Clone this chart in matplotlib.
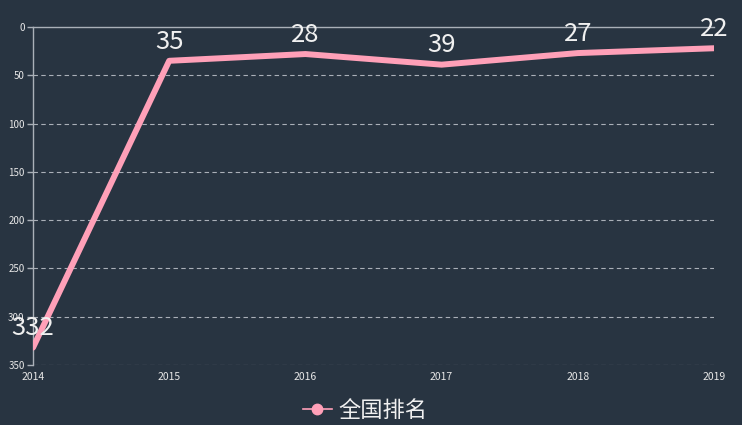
import matplotlib
matplotlib.use("Agg")
import matplotlib.pyplot as plt
from matplotlib.lines import Line2D

plt.rcParams['font.family'] = ['Noto Sans CJK SC', 'DejaVu Sans']

years = ['2014', '2015', '2016', '2017', '2018', '2019']
ranks = [332, 35, 28, 39, 27, 22]
series_name = '全国排名'

bg = '#283441'
pink = '#ffa0b8'
grid_c = '#aab0b8'

fig = plt.figure(figsize=(7.42, 4.25), dpi=100, facecolor=bg)
ax = fig.add_axes([33/742, 1-365/425, (714-33)/742, (365-27)/425])
ax.set_facecolor(bg)

x = list(range(len(years)))
ax.plot(x, ranks, color=pink, lw=4.3, solid_capstyle='round',
        solid_joinstyle='round', zorder=3)
# value labels above each point
for xi, v in zip(x, ranks):
    ax.annotate(str(v), (xi, v), xytext=(0, 4.5), textcoords='offset points',
                ha='center', va='bottom', color='#f0f0f0', fontsize=18.5,
                fontweight='light', zorder=4)

ax.set_xlim(0, len(years) - 1)
ax.set_ylim(350, 0)
ax.set_yticks(range(0, 351, 50))
ax.set_xticks(x)
ax.set_xticklabels(years)

for y in range(50, 351, 50):
    ax.axhline(y, color=grid_c, lw=0.8, ls=(0, (4, 3)), zorder=1)

for s in ['right', 'bottom']:
    ax.spines[s].set_visible(False)
for s in ['top', 'left']:
    ax.spines[s].set_color(grid_c)
    ax.spines[s].set_linewidth(1)

ax.tick_params(axis='y', colors=grid_c, labelcolor='#e8e8e8', labelsize=7,
               length=4, width=1, pad=2)
ax.tick_params(axis='x', length=0, labelcolor='#e8e8e8', labelsize=7.5, pad=5)

# legend at bottom
handle = Line2D([0], [0], color=pink, lw=1.2, marker='o', markersize=7.5,
                markerfacecolor=pink, markeredgecolor=pink)
fig.legend([handle], [series_name], loc='center', bbox_to_anchor=(365/742, 1-410/425),
           frameon=False, fontsize=16, handlelength=1.3, handletextpad=0.3,
           labelcolor='#f0f0f0')

fig.savefig('out.png', dpi=100, facecolor=bg)
